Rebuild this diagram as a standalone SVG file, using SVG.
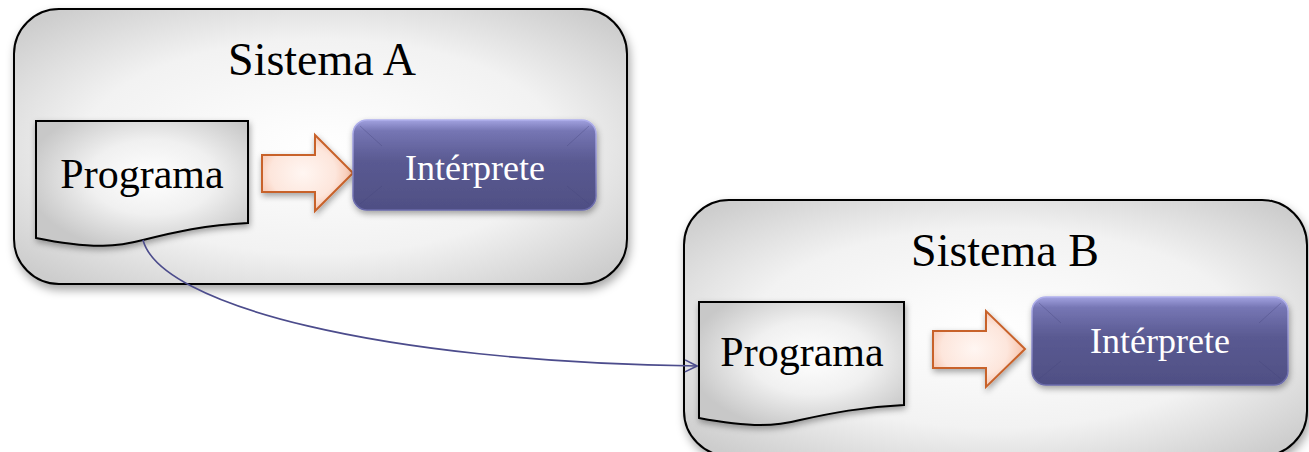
<svg xmlns="http://www.w3.org/2000/svg" width="1309" height="452" viewBox="0 0 1309 452">
<defs>
<radialGradient id="gBox" cx="50%" cy="50%" r="65%">
<stop offset="0" stop-color="#ffffff"/>
<stop offset="0.6" stop-color="#f2f2f2"/>
<stop offset="1" stop-color="#cdcdcd"/>
</radialGradient>
<radialGradient id="gDoc" cx="55%" cy="45%" r="60%">
<stop offset="0" stop-color="#ffffff"/>
<stop offset="0.5" stop-color="#f0f0f0"/>
<stop offset="1" stop-color="#c8c8c8"/>
</radialGradient>
<radialGradient id="gArr" cx="45%" cy="50%" r="60%">
<stop offset="0" stop-color="#fff6f2"/>
<stop offset="0.6" stop-color="#fde6dc"/>
<stop offset="1" stop-color="#f4b69a"/>
</radialGradient>
<linearGradient id="gInt" x1="0" y1="0" x2="0" y2="1">
<stop offset="0" stop-color="#a2a2e0"/>
<stop offset="0.12" stop-color="#7676b4"/>
<stop offset="0.45" stop-color="#5a5a92"/>
<stop offset="1" stop-color="#4f4f84"/>
</linearGradient>
<linearGradient id="gIntEdge" x1="0" y1="0" x2="0" y2="1">
<stop offset="0" stop-color="#b0b0ec"/>
<stop offset="1" stop-color="#6868a8"/>
</linearGradient>
<filter id="sh" x="-10%" y="-10%" width="125%" height="130%">
<feDropShadow dx="2" dy="5" stdDeviation="5" flood-color="#000" flood-opacity="0.35"/>
</filter>
<filter id="shS" x="-10%" y="-10%" width="125%" height="135%">
<feDropShadow dx="1" dy="3" stdDeviation="3" flood-color="#000" flood-opacity="0.35"/>
</filter>
<marker id="open" viewBox="0 0 14 14" refX="13" refY="7" markerWidth="14" markerHeight="14" markerUnits="userSpaceOnUse" orient="auto">
<path d="M1,1 L13,7 L1,13" fill="none" stroke="#4c4c8c" stroke-width="1.6"/>
</marker>
<style>
.sys{fill:url(#gBox);stroke:#000;stroke-width:2;filter:url(#sh)}
.doc{fill:url(#gDoc);stroke:#000;stroke-width:2;filter:url(#shS)}
.arr{fill:url(#gArr);stroke:#c8622c;stroke-width:2;filter:url(#shS)}
.int{fill:url(#gInt);stroke:url(#gIntEdge);stroke-width:1.5;filter:url(#shS)}
.bev{fill:none;stroke:#44447a;stroke-opacity:0.35;stroke-width:1}
.t{font-family:"Liberation Serif","Times New Roman",serif;text-anchor:middle}
.title{font-size:46px;fill:#000}
.lbl{font-size:42px;fill:#000}
.wl{font-size:36px;fill:#fff}
.conn{fill:none;stroke:#4c4c8c;stroke-width:1.6}
</style>
</defs>

<g id="sistemaA">
<rect class="sys" x="14" y="9" width="613" height="275" rx="45" ry="45"/>
<text class="t title" x="322" y="75">Sistema A</text>
</g>

<g id="sistemaB">
<rect class="sys" x="684" y="200" width="623" height="256" rx="45" ry="45"/>
<text class="t title" x="1005" y="266">Sistema B</text>
</g>

<g id="programaA">
<path class="doc" d="M36,121 L248,121 L248,223 C205,225 175,232 143,240 C120,246 95,250 36,238 Z"/>
<text class="t lbl" x="142" y="188">Programa</text>
</g>

<g id="flechaA">
<path class="arr" d="M262,155 L315,155 L315,135 L353,173 L315,211 L315,192 L262,192 Z"/>
</g>

<g id="interpreteA">
<rect class="int" x="353" y="120" width="243" height="90" rx="14" ry="14"/>
<path class="bev" d="M360,126 L382,146 M589,126 L567,146 M360,204 L382,186 M589,204 L567,186"/>
<text class="t wl" x="475" y="180">Intérprete</text>
</g>

<g id="programaB">
<path class="doc" d="M699,302 L904,302 L904,405 C862,407 832,413 800,420 C777,426 752,428 699,418 Z"/>
<text class="t lbl" x="802" y="366">Programa</text>
</g>

<g id="flechaB">
<path class="arr" d="M933,331 L986,331 L986,311 L1025,349 L986,387 L986,368 L933,368 Z"/>
</g>

<g id="interpreteB">
<rect class="int" x="1032" y="297" width="256" height="88" rx="14" ry="14"/>
<path class="bev" d="M1039,303 L1061,323 M1281,303 L1259,323 M1039,379 L1061,361 M1281,379 L1259,361"/>
<text class="t wl" x="1160" y="353">Intérprete</text>
</g>

<g id="conectores">
<path class="conn" d="M143,240 C160,305 380,362 697,366" marker-end="url(#open)"/>
</g>
</svg>
